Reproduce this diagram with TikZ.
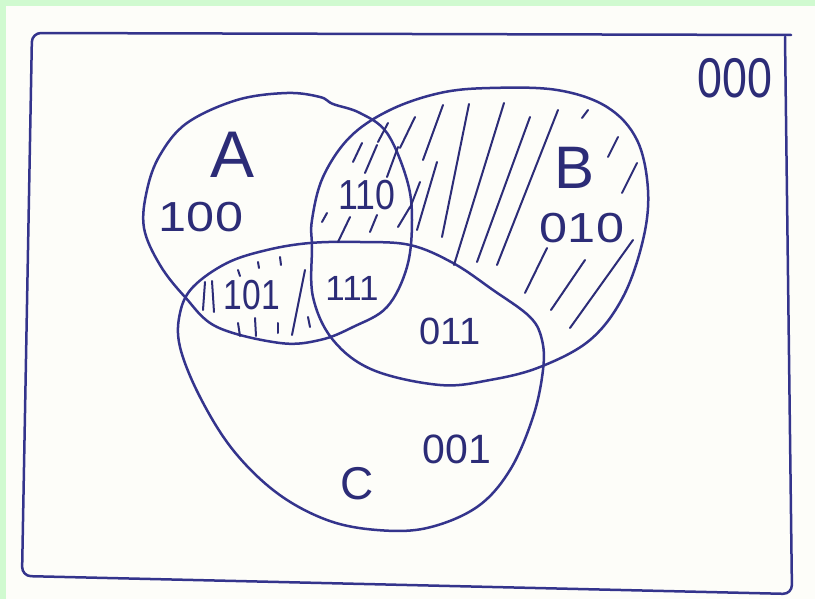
\documentclass[tikz,border=0pt]{standalone}
\usepackage{fontspec}
\setmainfont{Liberation Sans}
\definecolor{ink}{RGB}{52,52,140}
\definecolor{paper}{RGB}{253,253,249}
\definecolor{mint}{RGB}{208,250,208}
\tikzset{
  pen/.style={draw=ink, line width=2.5pt, line cap=round, line join=round},
  hatch/.style={draw=ink!85!black, line width=2pt, line cap=round},
  lbl/.style={text=ink!85!black, inner sep=0pt}
}
\newcommand{\fs}[1]{\fontsize{#1}{#1}\selectfont}

\begin{document}
\begin{tikzpicture}[x=1pt,y=-1pt]
    \fill[paper] (0,0) rectangle (815,599);
    \fill[mint] (0,0) rectangle (815,6);
    \fill[mint] (0,0) rectangle (6,599);
    \useasboundingbox (0,0) rectangle (815,599);
    % universe
    \draw[pen, rounded corners=9pt] (785,37) -- (792,594) -- (22,576) -- (32,33) -- (791,35);
    % set A
    \draw[pen] plot[smooth cycle, tension=0.6] coordinates {
      (144,228) (147,190) (160,155) (187,123) (237,100) (287,93) (320,97) (333,104)
      (360,113) (387,133) (407,180) (412,220) (407,267) (387,307) (353,327)
      (320,340) (280,343) (217,327) (185,297) (160,265)};
    % set B
    \draw[pen] plot[smooth cycle, tension=0.6] coordinates {
      (312,220) (323,177) (350,137) (390,110) (440,93) (490,88) (557,90)
      (607,107) (637,140) (648,190) (643,240) (623,297) (590,340) (540,367)
      (490,380) (440,385) (373,370) (333,340) (313,297) (312,247)};
    % set C
    \draw[pen] plot[smooth cycle, tension=0.6] coordinates {
      (267,250) (310,243) (360,242) (410,245) (453,263) (493,290) (530,317)
      (542,340) (543,370) (533,417) (510,470) (477,507) (427,528) (377,530)
      (327,520) (277,493) (233,450) (200,397) (180,347) (180,313) (193,287)
      (227,263)};
    % hatching of B without C
    \foreach \xa/\ya/\xb/\yb in {423/160/443/105, 417/230/437/162, 442/237/469/104,
        454/265/504/103, 477/262/530/117, 497/265/558/110, 525/293/547/248,
        551/310/585/260, 570/328/633/240, 582/118/588/110, 608/157/618/137,
        622/193/637/163}
      \draw[hatch] (\xa,\ya) -- (\xb,\yb);
    % dashes in 110
    \foreach \xa/\ya/\xb/\yb in {353/162/362/143, 365/173/377/145, 378/142/388/123,
        387/177/398/147, 400/148/415/117, 322/222/327/213, 338/242/350/217,
        370/232/377/215, 398/227/410/207, 410/208/420/182}
      \draw[hatch] (\xa,\ya) -- (\xb,\yb);
    % ticks in 101
    \foreach \xa/\ya/\xb/\yb in {205/282/203/310, 212/281/214/312, 238/270/240/276,
        258/262/259/268, 280/257/281/265, 238/323/240/336, 255/318/256/336,
        278/323/278/333, 305/270/292/335, 308/317/310/327}
      \draw[hatch] (\xa,\ya) -- (\xb,\yb);
    % labels
    \node[lbl, font=\fs{66}] (labA) at (233,155) {A};
    \node[lbl, font=\fs{60}] (labB) at (575,168) {B};
    \node[lbl, font=\fs{46}] (labC) at (357,484) {C};
    \node[lbl, font=\fs{56}] (r000) at (735,78) {\scalebox{0.8}[1]{000}};
    \node[lbl, font=\fs{42}] (r100) at (201,217) {\scalebox{1.2}[1]{100}};
    \node[lbl, font=\fs{42}] (r110) at (367,195) {\scalebox{0.85}[1]{110}};
    \node[lbl, font=\fs{42}] (r010) at (582,228) {\scalebox{1.2}[1]{010}};
    \node[lbl, font=\fs{42}] (r101) at (252,295) {\scalebox{0.8}[1]{101}};
    \node[lbl, font=\fs{35}] (r111) at (352,288) {111};
    \node[lbl, font=\fs{38}] (r011) at (450,331) {011};
    \node[lbl, font=\fs{41}] (r001) at (457,449) {001};
\end{tikzpicture}
\end{document}
